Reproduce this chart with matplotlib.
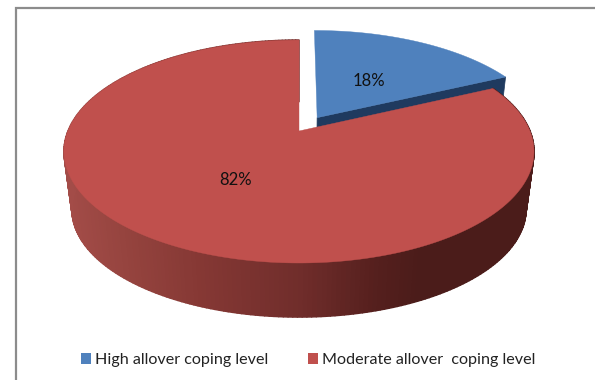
import numpy as np
import matplotlib
matplotlib.use("Agg")
import matplotlib.pyplot as plt
from matplotlib.patches import Polygon, Patch
from matplotlib.collections import PolyCollection

plt.rcParams["font.family"] = ["Lato", "DejaVu Sans"]

# Data
labels = ["High allover coping level", "Moderate allover  coping level"]
values = [18, 82]
pct_labels = ["18%", "82%"]
colors = ["#4f81bd", "#c0504d"]
cut_colors = ["#1f3a5f", "#4a1c1a"]

# Shading of the red rim, left to right
rim_x = [65, 120, 200, 300, 380, 420, 530]
rim_rgb = np.array([
    [163, 76, 72],
    [150, 68, 63],
    [133, 56, 52],
    [112, 45, 43],
    [84, 31, 29],
    [75, 28, 26],
    [75, 28, 26],
])

# Perspective of the pie
cx, cy = 299, 131
radius_x, radius_y = 231, 107.7
persp = 0.184
explode = 0.15
vanish = (298, 1853)
bottom_scale = 0.966


def project(X, Y):
    w = 1 + persp * Y
    return np.column_stack([cx + radius_x * X / w, cy - radius_y * Y / w])


def drop(pts):
    # same points on the underside of the disc
    return np.array(vanish) + bottom_scale * (pts - np.array(vanish))


def disc_points(a0, a1, offset=0.0, n=200):
    # angles are clockwise from 12 o'clock
    a = np.radians(np.linspace(a0, a1, n))
    mid = np.radians((a0 + a1) / 2)
    ox, oy = offset * np.sin(mid), offset * np.cos(mid)
    return project(ox + np.sin(a), oy + np.cos(a)), project(np.array([ox]), np.array([oy]))


fig = plt.figure(figsize=(5.95, 3.8), dpi=100)
ax = fig.add_axes([0, 0, 1, 1])
ax.set_xlim(0, 595)
ax.set_ylim(380, 0)
ax.axis("off")

# Chart frame
ax.plot([15.5, 15.5, 595], [380, 7.5, 7.5], color="#8c8c8c", lw=1.6, solid_joinstyle="miter", zorder=1)

angles = np.concatenate([[0], np.cumsum(values) / np.sum(values) * 360])

# Blue slice, pulled out of the pie
rim, apex = disc_points(angles[0], angles[1], offset=explode)
tip = rim[-1:]
cut = np.vstack([apex, tip, drop(tip), drop(apex)])
ax.add_patch(Polygon(cut, closed=True, fc=cut_colors[0], ec=cut_colors[0], lw=0.5, zorder=2))
ax.add_patch(Polygon(np.vstack([apex, rim]), closed=True, fc=colors[0], ec=colors[0], lw=0.3, zorder=3))

# Red slice: outer wall as thin strips, then the top face
rim, apex = disc_points(angles[1], angles[2], n=300)
low = drop(rim)
strips = [[rim[i], rim[i + 1], low[i + 1], low[i]] for i in range(len(rim) - 1)]
mid_x = (rim[:-1, 0] + rim[1:, 0]) / 2
shade = np.column_stack([np.interp(mid_x, rim_x, rim_rgb[:, c]) for c in range(3)]) / 255
ax.add_collection(PolyCollection(strips, facecolors=shade, edgecolors=shade, linewidths=1.1, zorder=4))
ax.add_patch(Polygon(np.vstack([apex, rim]), closed=True, fc=colors[1], ec=colors[1], lw=0.3, zorder=5))

# Percent labels
ax.text(369, 81, pct_labels[0], fontsize=12, color="#111111", ha="center", va="center", zorder=6)
ax.text(236, 180, pct_labels[1], fontsize=12, color="#111111", ha="center", va="center", zorder=6)

# Legend
handles = [Patch(facecolor=c, edgecolor="none", label=l) for c, l in zip(colors, labels)]
ax.legend(
    handles=handles,
    loc="center left",
    bbox_to_anchor=(76.5 / 595, 1 - 360 / 380),
    ncol=2,
    frameon=False,
    fontsize=11.6,
    labelcolor="#222222",
    handlelength=0.62,
    handleheight=0.62,
    handletextpad=0.25,
    columnspacing=2.45,
    borderpad=0.3,
    borderaxespad=0,
)

fig.savefig("out.png", dpi=100)
